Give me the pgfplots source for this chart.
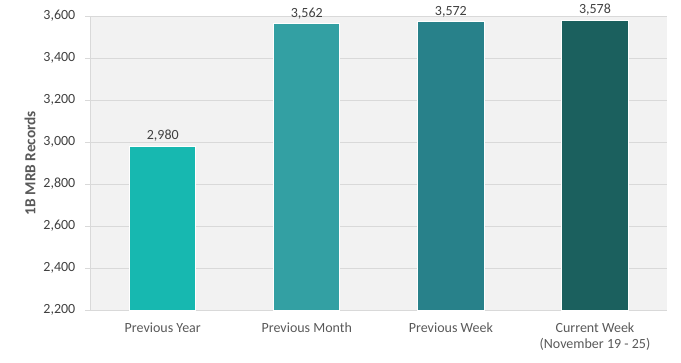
\documentclass[border=0pt]{standalone}
\usepackage{pgfplots}
\pgfplotsset{compat=1.18}
\usepackage{fontspec}
\setmainfont{Carlito}
\definecolor{bgc}{HTML}{F2F2F2}
\definecolor{gridc}{HTML}{D9D9D9}
\definecolor{txt}{HTML}{595959}
\definecolor{lab}{HTML}{404040}
\definecolor{c1}{HTML}{17B8B0}
\definecolor{c2}{HTML}{33A0A3}
\definecolor{c3}{HTML}{28818A}
\definecolor{c4}{HTML}{1B605E}
\begin{document}
\begin{tikzpicture}
\path[use as bounding box] (-68pt,-39pt) rectangle (442.5pt,232.5pt);
\begin{axis}[
  at={(0,0)}, anchor=south west,
  scale only axis, width=432pt, height=220.5pt,
  xmin=-0.5, xmax=3.5, ymin=2200, ymax=3600,
  ytick distance=200,
  xtick={0,1,2,3},
  xticklabels={Previous Year,Previous Month,Previous Week,{Current Week\\(November 19 - 25)}},
  xticklabel style={align=center, font=\fontsize{10.5}{12}\selectfont, text=txt, yshift=-2pt},
  yticklabel style={font=\fontsize{10.5}{12}\selectfont, text=lab, xshift=-4pt},
  /pgf/number format/assume math mode=true,
  /pgf/number format/1000 sep={,},
  ymajorgrids, grid style={gridc, line width=0.75pt},
  axis background/.style={fill=bgc},
  axis line style={gridc, line width=0.75pt},
  axis x line*=bottom, axis y line*=left,
  x axis line style={-}, y axis line style={-},
  major x tick style={draw=none},
  major y tick style={gridc, line width=0.75pt},
  tick align=outside, major tick length=4pt,
  ylabel={\textbf{1B MRB Records}},
  ylabel style={font=\fontsize{11.5}{13}\selectfont, text=txt},
  ylabel shift=-1pt,
  ybar, bar width=0.46, bar shift=0pt,
  nodes near coords,
  every node near coord/.append style={font=\fontsize{10.5}{12}\selectfont, text=lab, /pgf/number format/assume math mode=true, /pgf/number format/1000 sep={,}},
  clip=false,
]
\addplot[fill=c1, draw=white, line width=0.75pt] coordinates {(0,2980)};
\addplot[fill=c2, draw=white, line width=0.75pt] coordinates {(1,3562)};
\addplot[fill=c3, draw=white, line width=0.75pt] coordinates {(2,3572)};
\addplot[fill=c4, draw=white, line width=0.75pt] coordinates {(3,3578)};
\end{axis}
\end{tikzpicture}
\end{document}
